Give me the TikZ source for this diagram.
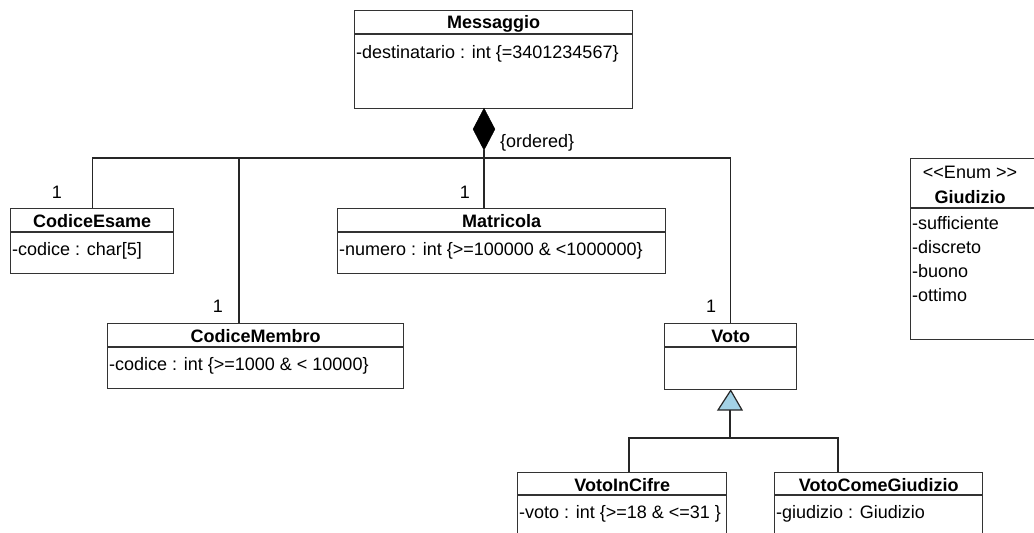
\documentclass[tikz,border=0pt]{standalone}
\usepackage{fontspec}
\setmainfont{Liberation Sans}
\usetikzlibrary{shapes.geometric}
\definecolor{genfill}{HTML}{A3D2E6}
\begin{document}
\begin{tikzpicture}[x=1pt,y=-1pt,
  umlbox/.style={draw=black!80, line width=1.4pt, fill=white, anchor=north west, inner sep=0pt},
  sep/.style={draw=black!80, line width=1.2pt},
  link/.style={draw=black!85, line width=1.2pt},
  cname/.style={font=\fontsize{18}{21}\selectfont\bfseries, anchor=base, inner sep=0pt},
  attr/.style={font=\fontsize{18}{21}\selectfont, anchor=base west, inner sep=0pt},
  plain/.style={font=\fontsize{18}{21}\selectfont, anchor=base, inner sep=0pt},
]
\useasboundingbox (0,0) rectangle (1034,533);
\clip (0,0) rectangle (1034,533);
\fill[white] (0,0) rectangle (1034,533);

% class boxes
\node[umlbox, minimum width=278pt, minimum height=98pt] (mes) at (354,10) {};
\node[umlbox, minimum width=163pt, minimum height=65pt] (ce) at (10,208) {};
\node[umlbox, minimum width=328pt, minimum height=65pt] (ma) at (337,208) {};
\node[umlbox, minimum width=296pt, minimum height=65pt] (cm) at (107,323) {};
\node[umlbox, minimum width=132pt, minimum height=66pt] (vo) at (664,323) {};
\node[umlbox, minimum width=209pt, minimum height=80pt] (vic) at (517,472) {};
\node[umlbox, minimum width=208pt, minimum height=80pt] (vcg) at (774,472) {};
\node[umlbox, minimum width=140pt, minimum height=181pt] (giu) at (910,158) {};

% compartment separators
\draw[sep] (mes.west |- 0,34) -- (mes.east |- 0,34);
\draw[sep] (ce.west |- 0,232) -- (ce.east |- 0,232);
\draw[sep] (ma.west |- 0,232) -- (ma.east |- 0,232);
\draw[sep] (cm.west |- 0,347) -- (cm.east |- 0,347);
\draw[sep] (vo.west |- 0,347) -- (vo.east |- 0,347);
\draw[sep] (vic.west |- 0,495) -- (vic.east |- 0,495);
\draw[sep] (vcg.west |- 0,495) -- (vcg.east |- 0,495);
\draw[sep] (giu.west |- 0,208) -- (giu.east |- 0,208);

% class names
\node[cname] (mesT) at (mes.north |- 0,28) {Messaggio};
\node[cname] (ceT) at (ce.north |- 0,227) {CodiceEsame};
\node[cname] (maT) at (ma.north |- 0,227) {Matricola};
\node[cname] (cmT) at (cm.north |- 0,342) {CodiceMembro};
\node[cname] (voT) at (vo.north |- 0,342) {Voto};
\node[cname] (vicT) at (vic.north |- 0,491) {VotoInCifre};
\node[cname] (vcgT) at (vcg.north |- 0,491) {VotoComeGiudizio};
\node[plain] (giuS) at (970,178) {<{}<Enum >{}>};
\node[cname] (giuT) at (970,203) {Giudizio};

% attributes
\node[attr] (mesA) at (356,58) {-destinatario : int \{=3401234567\}};
\node[attr] (ceA) at (12,255) {-codice : char[5]};
\node[attr] (maA) at (339,255) {-numero : int \{>=100000 \& <1000000\}};
\node[attr] (cmA) at (109,370) {-codice : int \{>=1000 \& < 10000\}};
\node[attr] (vicA) at (519,518) {-voto : int \{>=18 \& <=31 \}};
\node[attr] (vcgA) at (776,518) {-giudizio : Giudizio};
\node[attr] (g1) at (912,229) {-sufficiente};
\node[attr] (g2) at (912,253) {-discreto};
\node[attr] (g3) at (912,277) {-buono};
\node[attr] (g4) at (912,301) {-ottimo};

% composition: Messaggio owns its parts
\node[diamond, fill=black, draw=black, inner sep=0pt, minimum width=22pt, minimum height=42pt, anchor=north] (dia) at (484,108) {};
\coordinate (bus) at (484,158);
\coordinate (jm) at (239,158);
\draw[link] (dia.south) -- (bus);
\draw[link] (ce.north) |- (bus) -| (vo.north);
\draw[link] (bus) -- (bus |- ma.north);
\draw[link] (jm) -- (jm |- cm.north);
\node[plain, anchor=west] (ord) at (500,143) {\{ordered\}};

% multiplicities
\node[plain] (m1) at (57,198) {1};
\node[plain] (m2) at (465,198) {1};
\node[plain] (m3) at (218,312) {1};
\node[plain] (m4) at (711,312) {1};

% generalization: VotoInCifre and VotoComeGiudizio specialise Voto
\coordinate (apex) at (vo.south);
\coordinate (tbase) at (730,410);
\coordinate (gbus) at (730,438);
\coordinate (gl) at (629,438);
\coordinate (gr) at (838,438);
\draw[link, fill=genfill, line join=miter] (apex) -- (742,410) -- (718,410) -- cycle;
\draw[link] (tbase) -- (gbus);
\draw[link] (gl |- vic.north) |- (gl) -- (gr) -| (gr |- vcg.north);
\end{tikzpicture}
\end{document}
